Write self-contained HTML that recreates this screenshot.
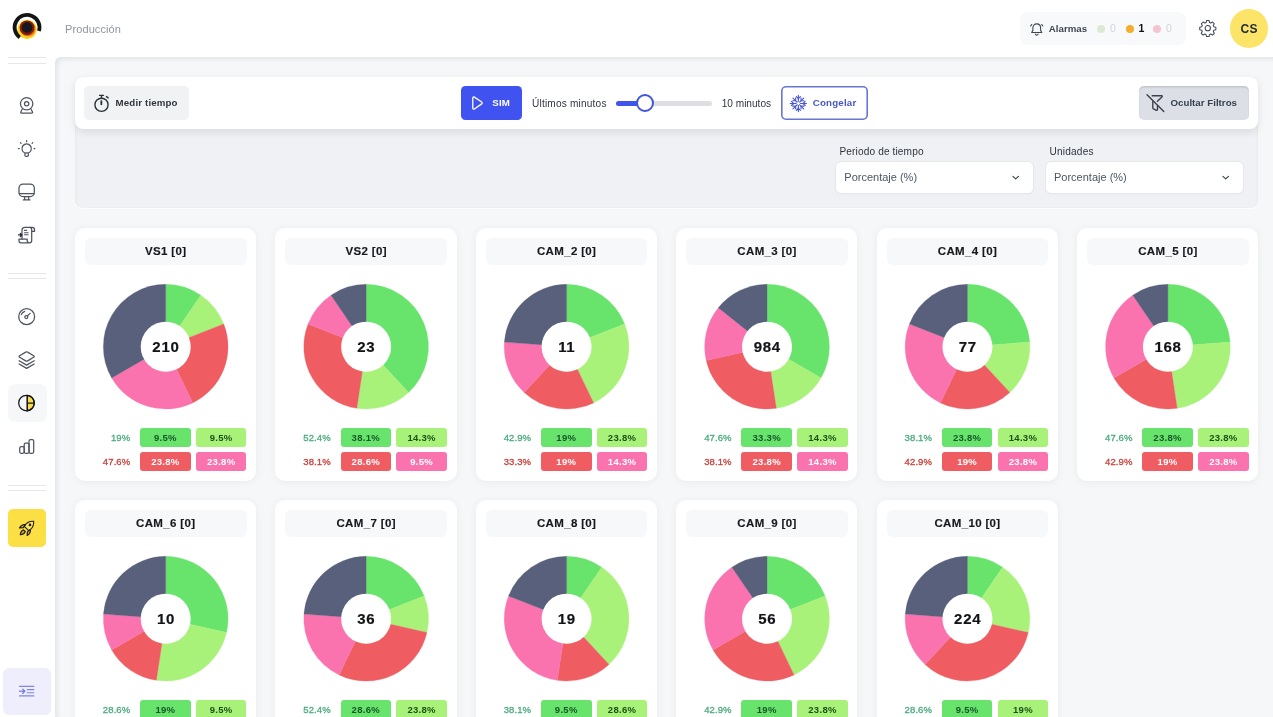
<!DOCTYPE html>
<html lang="es">
<head>
<meta charset="utf-8">
<title>Producción</title>
<style>
*{box-sizing:border-box;margin:0;padding:0}
html,body{width:1273px;height:717px;overflow:hidden;background:#fff}
body{font-family:"Liberation Sans",sans-serif;color:#374151;position:relative;font-size:10.5px}
.abs{position:absolute}
svg{display:block;overflow:visible}
.ico{position:absolute;fill:none;stroke:#4b5563;stroke-width:1.5;stroke-linecap:round;stroke-linejoin:round}
/* sidebar */
.divider{position:absolute;left:8px;width:37.5px;height:1px;background:#e5e7eb}
.navact{position:absolute;left:8px;top:384.400px;width:38.600px;height:37.600px;border-radius:7px;background:#f6f7f8}
.rocket{position:absolute;left:7.7px;top:509px;width:38.3px;height:38px;border-radius:5px;background:#fbdf45}
.collapse{position:absolute;left:3px;top:667.5px;width:48px;height:47.5px;border-radius:6px;background:#eeeefd}
/* header */
.crumb{position:absolute;left:65px;top:21.500px;font-size:11px;color:#90959e;letter-spacing:.1px;line-height:14px}
.alarm{position:absolute;left:1019.5px;top:12px;width:166.5px;height:33px;border-radius:8px;background:#f8f9fa}
.alarm .t{position:absolute;top:0;line-height:33px;font-size:10px;white-space:nowrap}
.dot{position:absolute;width:8px;height:8px;border-radius:50%;top:24.5px}
.avatar{position:absolute;left:1230px;top:9.3px;width:38.3px;height:38.3px;border-radius:50%;background:#fbe467;color:#1f2937;font-weight:700;font-size:12px;text-align:center;line-height:40px;letter-spacing:.3px}
/* main */
.main{position:absolute;left:55px;top:57px;right:0;bottom:0;background:#f6f7f9;border-top-left-radius:6px;box-shadow:inset 3px 3px 5px -1px rgba(17,24,39,.09)}
.filters{position:absolute;left:75px;top:77px;width:1183px;height:130.8px;border-radius:8px;background:#eff1f4;box-shadow:inset 1px 1px 3px rgba(17,24,39,.045),inset -1px 0 2px rgba(17,24,39,.03),0 1px 0 rgba(255,255,255,.75)}
.toolbar{position:absolute;left:75px;top:77px;width:1183px;height:52px;border-radius:8px;background:#fff;box-shadow:0 3px 8px rgba(17,24,39,.1)}
.btn{position:absolute;top:86px;height:34px;border-radius:5px;white-space:nowrap;font-weight:700;font-size:9.7px;line-height:34.4px}
.lbl{position:absolute;white-space:nowrap;font-size:10.1px;line-height:14px;color:#2f3540}
.sel{position:absolute;top:161px;width:199px;height:33px;border-radius:6px;background:#fff;border:1px solid #e5e7eb;box-shadow:0 1px 1px rgba(0,0,0,.02)}
.sel span{position:absolute;left:8.300px;top:0;line-height:31.600px;font-size:11px;color:#4b5563;letter-spacing:0;white-space:nowrap}
/* cards */
.card{position:absolute;width:181.17px;height:253px;border-radius:10px;background:#fff;box-shadow:0 1px 8px rgba(17,24,39,.055)}
.ctitle{position:absolute;left:9.900px;right:9.600px;top:10px;height:26.5px;border-radius:6px;background:#f7f8f9;text-align:center;font-weight:700;font-size:11.5px;line-height:26.5px;color:#17191d;letter-spacing:.35px;-webkit-text-stroke:.15px currentColor}
.pie{position:absolute;left:25.400px;top:54px}
.num{z-index:2;position:absolute;left:0;right:0;top:109.300px;text-align:center;font-weight:700;font-size:15px;line-height:20px;color:#121417;letter-spacing:.7px;text-indent:.7px;-webkit-text-stroke:.2px currentColor}
.lt{position:absolute;left:0;width:55.3px;text-align:right;height:18.8px;line-height:19.600px;font-size:9.5px;letter-spacing:.1px;white-space:nowrap;-webkit-text-stroke:.3px currentColor}
.lt.g{color:#4cab7f}
.lt.r{color:#c8423b}
.bx{position:absolute;width:50.6px;height:18.8px;border-radius:3px;text-align:center;line-height:19.600px;font-weight:700;font-size:9.5px;letter-spacing:.3px}
.bg{background:#68e36c;color:#17572a}
.blg{background:#a8f279;color:#1d4f1a}
.br{background:#ef5d63;color:#fff}
.bp{background:#fa73ae;color:#fff}
</style>
</head>
<body>
<!-- header -->
<svg class="abs" style="left:0;top:0" width="54" height="54" viewBox="0 0 54 54">
<circle cx="27.1" cy="29.5" r="9.7" fill="#fcd61c"/>
<circle cx="27.9" cy="28.9" r="7.7" fill="#ee7b1a"/>
<circle cx="27" cy="27.800" r="7.400" fill="#8a1a0c"/>
<circle cx="27.1" cy="27.4" r="5.3" fill="#17171f"/>
<path d="M19.73 37.42A12.45 12.45 0 1 1 38.96 30.99" fill="none" stroke="#121512" stroke-width="3.8"/>
</svg>
<div class="crumb">Producción</div>

<div class="alarm">
<svg class="ico" style="left:9.3px;top:8.7px;stroke:#3f4652;stroke-width:1.7" width="15.5" height="15.5" viewBox="0 0 24 24"><path d="M12 4.500c-3.600 0-6 2.700-6 6.300v3.700l-1.800 3.200h15.600L18 14.500v-3.700c0-3.600-2.400-6.300-6-6.300z"/><path d="M9.800 20.300a2.300 2.300 0 0 0 4.400 0"/><path d="M4.200 5.500L2.500 7.800M19.800 5.500l1.700 2.300"/></svg>
<div class="t" style="left:29.3px;font-weight:700;color:#3f4652;font-size:9.7px;letter-spacing:.02px;top:.3px">Alarmas</div>
<div class="dot" style="left:77.5px;top:12.500px;background:#dbead3"></div>
<div class="t" style="left:90.5px;color:#d1d5db;font-size:10.500px">0</div>
<div class="dot" style="left:106.500px;top:12.500px;background:#f3ae2e"></div>
<div class="t" style="left:119px;color:#111;font-weight:700;font-size:10.500px">1</div>
<div class="dot" style="left:133.500px;top:12.500px;background:#f6c3d0"></div>
<div class="t" style="left:146.500px;color:#d1d5db;font-size:10.500px">0</div>
</div>
<svg class="ico" style="left:1199.4px;top:19.3px;stroke:#3f4652;stroke-width:1.4" width="17.6" height="17.6" viewBox="0 0 24 24"><path d="M10.300 2.500h3.400l.6 2.700 1.700.8 2.500-1.400 2.400 2.400-1.400 2.500.8 1.700 2.700.6v3.400l-2.700.6-.8 1.700 1.400 2.500-2.400 2.400-2.500-1.400-1.700.8-.6 2.700h-3.400l-.6-2.700-1.700-.8-2.500 1.400-2.400-2.400 1.400-2.500-.8-1.700-2.700-.6v-3.400l2.700-.6.800-1.700-1.400-2.500 2.400-2.400 2.500 1.400 1.700-.8z" transform="translate(0 -.500)"/><circle cx="12" cy="12.500" r="3.600"/></svg>
<div class="avatar">CS</div>

<!-- sidebar -->
<div class="divider" style="top:57px"></div>
<div class="divider" style="top:63px"></div>
<div class="divider" style="top:273px"></div>
<div class="divider" style="top:278px"></div>
<div class="divider" style="top:484.500px"></div>
<div class="divider" style="top:489.500px"></div>
<div class="navact"></div>
<div class="rocket"></div>
<div class="collapse"></div>
<svg class="abs" style="left:0;top:0" width="56" height="717" viewBox="0 0 56 717" fill="none" stroke="#4d5460" stroke-width="1.25" stroke-linecap="round" stroke-linejoin="round">
<!-- webcam -->
<circle cx="26.65" cy="103.75" r="6.2"/><circle cx="26.65" cy="103.75" r="2.15"/>
<path d="M22.2 109.3l-1.400 2.700c-.3.600 0 1 .600 1h10.500c.600 0 .900-.400.600-1l-1.400-2.700"/>
<!-- bulb -->
<path d="M24.900 152.960a4.700 4.700 0 1 1 3.500 0"/><rect x="24.900" y="152.960" width="3.500" height="3.400" rx="1.200"/>
<path d="M26.600 140.700v1M20.500 142.600l.600.700M32.700 142.600l-.600.700M18.400 148.500h.9M34 148.500h.9"/>
<!-- monitor -->
<rect x="19" y="184" width="15.300" height="12.500" rx="4"/><path d="M19.200 193.500h14.900"/><path d="M24.700 196.800v2.900M28.600 196.800v2.900M23.300 199.900h6.700"/>
<!-- scroll -->
<path d="M22 239v-8.800c0-1.800 1-2.900 2.800-2.900h7.500c1.500 0 2.200.9 2.200 2.200v1.900h-2.800"/>
<path d="M29.500 227.300c1.500 0 2.200 1 2.200 2.200v11c0 1.500-.9 2.300-2.200 2.300h-8.500c-1.300 0-2-.8-2-2v-1.800h8.200v1.800c0 1.200.8 2 2.200 2"/>
<path d="M24.500 230.400h2M24.500 232.800h3.600M24.500 234.800h3.600" stroke-width="1.100"/>
<path d="M18.500 234.900h3M20.400 233.400l1.500 1.500-1.500 1.500" stroke="#2b313a" stroke-width="1.400"/>
<!-- gauge -->
<circle cx="26.660" cy="316.660" r="7.950"/><circle cx="26.300" cy="317" r="1.500"/><path d="M27.400 315.900l2.700-2.500"/><path d="M21.300 314.600a5.700 5.700 0 0 1 3.300-3.300"/>
<!-- layers -->
<path d="M25.650 352.100c.6-.4 1.400-.4 2 0l6 3.600c.8.500.8 1.100 0 1.600l-6 3.600c-.6.400-1.400.4-2 0l-6-3.600c-.8-.5-.8-1.100 0-1.600z"/>
<path d="M19.100 360.700l7.550 4.400 7.550-4.400M19.100 364l7.550 4.400 7.550-4.400"/>
<!-- active pie -->
<g stroke="#16181d" stroke-width="1.250"><path d="M27.300 395.300a7.800 7.800 0 0 1 0 15.500z" fill="#f9de4a"/><circle cx="26.500" cy="403.050" r="7.800"/><path d="M27.300 395.300v15.500M27.300 403.100h7"/></g>
<!-- bars -->
<rect x="19.700" y="446.700" width="4.500" height="6.600" rx="1.500"/><rect x="24.200" y="443.100" width="4.800" height="10.200" rx="1.500"/><rect x="29" y="439.500" width="4.700" height="13.800" rx="1.500"/>
<!-- rocket -->
<g stroke="#221c06" stroke-width="1.100" fill="rgba(130,85,45,.38)">
<path d="M33.700 521.300c-4.200-.3-7.600 1.700-9.400 5l4.400 4.400c3.300-1.800 5.300-5.200 5-9.400z" fill="rgba(255,240,140,.35)"/>
<path d="M25.300 524.600c-2.300-.3-4.400.9-5.800 3.300l3.900-.3z"/>
<path d="M30.400 529.700c.3 2.300-.9 4.400-3.300 5.800l.3-3.900z"/>
<path d="M23.600 529.900c-1.900.5-3 2.300-3.300 4.900 2.600-.3 4.400-1.400 4.900-3.300z"/>
<circle cx="30" cy="524.900" r=".8" fill="#221c06"/>
</g>
<!-- collapse -->
<g stroke="#8385e4" stroke-width="1.150"><path d="M19.500 686.400h14.300M27.200 689.600h6.600M27.200 692.700h6.600M19.500 695.900h14.300"/><path d="M19.500 691.150h5M22.800 689.100l2.100 2.050-2.100 2.050" stroke-width="1.300" stroke="#7577dc"/></g>
</svg>

<!-- main -->
<div class="main"></div>
<div class="filters"></div>
<div class="toolbar"></div>
<!-- Medir tiempo -->
<div class="btn" style="left:84.300px;width:105.200px;background:#f1f2f4;color:#2f3640"><svg class="ico" style="left:8.4px;top:7.6px;stroke:#2b313a;stroke-width:2" width="17" height="17.7" viewBox="0 0 24 25"><circle cx="12" cy="15.2" r="9.3"/><path d="M11.8 10v4.6" stroke-width="2.6"/><path d="M9.200 1.900h5.600M12 2.200v3.500"/><path d="M19 3.500l2.300 2"/></svg><span style="position:absolute;left:31.300px;letter-spacing:.15px">Medir tiempo</span></div>
<!-- SIM -->
<div class="btn" style="left:460.800px;width:61.200px;background:#4053f0;color:#fff;border-radius:4.500px"><svg class="ico" style="left:11.200px;top:9.700px;stroke:#fff;stroke-width:1.400" width="11.300" height="14.100" viewBox="0 0 12 15"><path d="M.8 2.200c0-1 .9-1.500 1.700-1l7.800 5.200c.8.500.8 1.500 0 2L2.500 13.800c-.8.500-1.700 0-1.700-1z"/></svg><span style="position:absolute;left:31.400px;letter-spacing:.25px">SIM</span></div>
<div class="lbl" style="left:532px;top:96.700px;letter-spacing:.19px">Últimos minutos</div>
<!-- slider -->
<div class="abs" style="left:615.500px;top:100.500px;width:96.300px;height:5.200px;border-radius:3px;background:#dedfe3"></div>
<div class="abs" style="left:615.500px;top:100.500px;width:30px;height:5.200px;border-radius:3px;background:#4053ea"></div>
<div class="abs" style="left:635.600px;top:93.900px;width:18.600px;height:18.600px;border-radius:50%;background:#fff;border:2.300px solid #4255de"></div>
<div class="lbl" style="left:721.700px;top:96.700px;letter-spacing:0">10 minutos</div>
<!-- Congelar -->
<div class="btn" style="left:781.400px;width:86.700px;background:#fff;box-shadow:inset 0 0 0 1.600px #6776d0;color:#4656c4;line-height:33.700px;border-radius:5px"><svg class="ico" style="left:7.600px;top:8.600px;stroke:#4759d0;stroke-width:1.600" width="17.400" height="17.400" viewBox="0 0 24 24"><g transform="translate(.9 -.3)"><path d="M12 .8v22.400M.8 12h22.400M4.600 4.600l14.800 14.800M19.400 4.600L4.600 19.400"/><path d="M9.200 2.600L12 5.400l2.800-2.800M9.200 21.400l2.800-2.800 2.800 2.800M2.600 9.200L5.400 12l-2.800 2.800M21.400 9.200L18.600 12l2.800 2.800"/><path d="M4.300 8.300h4v-4M19.700 8.300h-4v-4M4.300 15.700h4v4M19.700 15.700h-4v4" stroke-width="1.500"/><path d="M12 9.400l2.600 2.600-2.600 2.600L9.400 12z" fill="#fff" stroke="none"/></g></svg><span style="position:absolute;left:31.400px;letter-spacing:.2px">Congelar</span></div>
<!-- Ocultar filtros -->
<div class="btn" style="left:1138.900px;width:110px;height:33.500px;background:#dcdfe5;color:#374151;box-shadow:inset 0 1.500px 1.500px rgba(17,24,39,.13)"><svg class="ico" style="left:7.100px;top:7px;stroke:#3a414d;stroke-width:1.400" width="19" height="20" viewBox="0 0 19 20"><path d="M6.200 2.700h9.300c.8 0 1 .6.500 1.200L11.400 8.200"/><path d="M6.800 8.500v6.300c0 .5.200.8.600 1l2.600 1.300c.8.400 1.500 0 1.500-.9V13"/><path d="M1 1.800l16.800 16.800"/></svg><span style="position:absolute;left:31.600px;letter-spacing:.02px">Ocultar Filtros</span></div>

<div class="lbl" style="left:839.500px;top:144.600px;letter-spacing:.13px">Periodo de tiempo</div>
<div class="lbl" style="left:1049.500px;top:144.600px;letter-spacing:.19px">Unidades</div>
<div class="sel" style="left:835px"><span>Porcentaje (%)</span><svg class="ico" style="left:176px;top:13.400px;stroke:#374151;stroke-width:1.250" width="7.400" height="5.500" viewBox="0 0 8 6"><path d="M1 1.500l3 2.800 3-2.800"/></svg></div>
<div class="sel" style="left:1044.700px"><span>Porcentaje (%)</span><svg class="ico" style="left:176px;top:13.400px;stroke:#374151;stroke-width:1.250" width="7.400" height="5.500" viewBox="0 0 8 6"><path d="M1 1.500l3 2.800 3-2.800"/></svg></div>

<div class="card" style="left:75.00px;top:228.00px">
<div class="ctitle">VS1 [0]</div>
<div class="num">210</div>
<div class="lt g" style="top:200px">19%</div><div class="bx bg" style="top:200px;left:65.1px">9.5%</div><div class="bx blg" style="top:200px;left:120.9px">9.5%</div>
<div class="lt r" style="top:224px">47.6%</div><div class="bx br" style="top:224px;left:65.1px">23.8%</div><div class="bx bp" style="top:224px;left:120.9px">23.8%</div>
</div>
<div class="card" style="left:275.44px;top:228.00px">
<div class="ctitle">VS2 [0]</div>
<div class="num">23</div>
<div class="lt g" style="top:200px">52.4%</div><div class="bx bg" style="top:200px;left:65.1px">38.1%</div><div class="bx blg" style="top:200px;left:120.9px">14.3%</div>
<div class="lt r" style="top:224px">38.1%</div><div class="bx br" style="top:224px;left:65.1px">28.6%</div><div class="bx bp" style="top:224px;left:120.9px">9.5%</div>
</div>
<div class="card" style="left:475.88px;top:228.00px">
<div class="ctitle">CAM_2 [0]</div>
<div class="num">11</div>
<div class="lt g" style="top:200px">42.9%</div><div class="bx bg" style="top:200px;left:65.1px">19%</div><div class="bx blg" style="top:200px;left:120.9px">23.8%</div>
<div class="lt r" style="top:224px">33.3%</div><div class="bx br" style="top:224px;left:65.1px">19%</div><div class="bx bp" style="top:224px;left:120.9px">14.3%</div>
</div>
<div class="card" style="left:676.32px;top:228.00px">
<div class="ctitle">CAM_3 [0]</div>
<div class="num">984</div>
<div class="lt g" style="top:200px">47.6%</div><div class="bx bg" style="top:200px;left:65.1px">33.3%</div><div class="bx blg" style="top:200px;left:120.9px">14.3%</div>
<div class="lt r" style="top:224px">38.1%</div><div class="bx br" style="top:224px;left:65.1px">23.8%</div><div class="bx bp" style="top:224px;left:120.9px">14.3%</div>
</div>
<div class="card" style="left:876.76px;top:228.00px">
<div class="ctitle">CAM_4 [0]</div>
<div class="num">77</div>
<div class="lt g" style="top:200px">38.1%</div><div class="bx bg" style="top:200px;left:65.1px">23.8%</div><div class="bx blg" style="top:200px;left:120.9px">14.3%</div>
<div class="lt r" style="top:224px">42.9%</div><div class="bx br" style="top:224px;left:65.1px">19%</div><div class="bx bp" style="top:224px;left:120.9px">23.8%</div>
</div>
<div class="card" style="left:1077.20px;top:228.00px">
<div class="ctitle">CAM_5 [0]</div>
<div class="num">168</div>
<div class="lt g" style="top:200px">47.6%</div><div class="bx bg" style="top:200px;left:65.1px">23.8%</div><div class="bx blg" style="top:200px;left:120.9px">23.8%</div>
<div class="lt r" style="top:224px">42.9%</div><div class="bx br" style="top:224px;left:65.1px">19%</div><div class="bx bp" style="top:224px;left:120.9px">23.8%</div>
</div>
<div class="card" style="left:75.00px;top:500.00px">
<div class="ctitle">CAM_6 [0]</div>
<div class="num">10</div>
<div class="lt g" style="top:200px">28.6%</div><div class="bx bg" style="top:200px;left:65.1px">19%</div><div class="bx blg" style="top:200px;left:120.9px">9.5%</div>
<div class="lt r" style="top:224px">23.8%</div><div class="bx br" style="top:224px;left:65.1px">14.3%</div><div class="bx bp" style="top:224px;left:120.9px">9.5%</div>
</div>
<div class="card" style="left:275.44px;top:500.00px">
<div class="ctitle">CAM_7 [0]</div>
<div class="num">36</div>
<div class="lt g" style="top:200px">52.4%</div><div class="bx bg" style="top:200px;left:65.1px">28.6%</div><div class="bx blg" style="top:200px;left:120.9px">23.8%</div>
<div class="lt r" style="top:224px">47.6%</div><div class="bx br" style="top:224px;left:65.1px">28.6%</div><div class="bx bp" style="top:224px;left:120.9px">19%</div>
</div>
<div class="card" style="left:475.88px;top:500.00px">
<div class="ctitle">CAM_8 [0]</div>
<div class="num">19</div>
<div class="lt g" style="top:200px">38.1%</div><div class="bx bg" style="top:200px;left:65.1px">9.5%</div><div class="bx blg" style="top:200px;left:120.9px">28.6%</div>
<div class="lt r" style="top:224px">42.9%</div><div class="bx br" style="top:224px;left:65.1px">14.3%</div><div class="bx bp" style="top:224px;left:120.9px">28.6%</div>
</div>
<div class="card" style="left:676.32px;top:500.00px">
<div class="ctitle">CAM_9 [0]</div>
<div class="num">56</div>
<div class="lt g" style="top:200px">42.9%</div><div class="bx bg" style="top:200px;left:65.1px">19%</div><div class="bx blg" style="top:200px;left:120.9px">23.8%</div>
<div class="lt r" style="top:224px">47.6%</div><div class="bx br" style="top:224px;left:65.1px">23.8%</div><div class="bx bp" style="top:224px;left:120.9px">23.8%</div>
</div>
<div class="card" style="left:876.76px;top:500.00px">
<div class="ctitle">CAM_10 [0]</div>
<div class="num">224</div>
<div class="lt g" style="top:200px">28.6%</div><div class="bx bg" style="top:200px;left:65.1px">9.5%</div><div class="bx blg" style="top:200px;left:120.9px">19%</div>
<div class="lt r" style="top:224px">47.6%</div><div class="bx br" style="top:224px;left:65.1px">33.3%</div><div class="bx bp" style="top:224px;left:120.9px">14.3%</div>
</div>
<svg class="abs" style="left:0;top:0;pointer-events:none" width="1273" height="717" viewBox="0 0 1273 717"><path d="M165.70 346.70L165.70 284.35A62.35 62.35 0 0 1 200.82 295.18Z" fill="#68e36c" stroke="#68e36c" stroke-width="0.3"/><path d="M165.70 346.70L200.82 295.18A62.35 62.35 0 0 1 223.74 323.92Z" fill="#a8f279" stroke="#a8f279" stroke-width="0.3"/><path d="M165.70 346.70L223.74 323.92A62.35 62.35 0 0 1 192.75 402.88Z" fill="#ef5d63" stroke="#ef5d63" stroke-width="0.3"/><path d="M165.70 346.70L192.75 402.88A62.35 62.35 0 0 1 111.70 377.88Z" fill="#fa73ae" stroke="#fa73ae" stroke-width="0.3"/><path d="M165.70 346.70L111.70 377.88A62.35 62.35 0 0 1 165.70 284.35Z" fill="#58607c" stroke="#58607c" stroke-width="0.3"/><circle cx="165.70" cy="346.70" r="25.0" fill="#fff"/>
<path d="M366.14 346.70L366.14 284.35A62.35 62.35 0 0 1 408.55 392.41Z" fill="#68e36c" stroke="#68e36c" stroke-width="0.3"/><path d="M366.14 346.70L408.55 392.41A62.35 62.35 0 0 1 356.85 408.35Z" fill="#a8f279" stroke="#a8f279" stroke-width="0.3"/><path d="M366.14 346.70L356.85 408.35A62.35 62.35 0 0 1 308.10 323.92Z" fill="#ef5d63" stroke="#ef5d63" stroke-width="0.3"/><path d="M366.14 346.70L308.10 323.92A62.35 62.35 0 0 1 331.02 295.18Z" fill="#fa73ae" stroke="#fa73ae" stroke-width="0.3"/><path d="M366.14 346.70L331.02 295.18A62.35 62.35 0 0 1 366.14 284.35Z" fill="#58607c" stroke="#58607c" stroke-width="0.3"/><circle cx="366.14" cy="346.70" r="25.0" fill="#fff"/>
<path d="M566.58 346.70L566.58 284.35A62.35 62.35 0 0 1 624.62 323.92Z" fill="#68e36c" stroke="#68e36c" stroke-width="0.3"/><path d="M566.58 346.70L624.62 323.92A62.35 62.35 0 0 1 593.63 402.88Z" fill="#a8f279" stroke="#a8f279" stroke-width="0.3"/><path d="M566.58 346.70L593.63 402.88A62.35 62.35 0 0 1 524.17 392.41Z" fill="#ef5d63" stroke="#ef5d63" stroke-width="0.3"/><path d="M566.58 346.70L524.17 392.41A62.35 62.35 0 0 1 504.40 342.04Z" fill="#fa73ae" stroke="#fa73ae" stroke-width="0.3"/><path d="M566.58 346.70L504.40 342.04A62.35 62.35 0 0 1 566.58 284.35Z" fill="#58607c" stroke="#58607c" stroke-width="0.3"/><circle cx="566.58" cy="346.70" r="25.0" fill="#fff"/>
<path d="M767.02 346.70L767.02 284.35A62.35 62.35 0 0 1 821.02 377.88Z" fill="#68e36c" stroke="#68e36c" stroke-width="0.3"/><path d="M767.02 346.70L821.02 377.88A62.35 62.35 0 0 1 776.31 408.35Z" fill="#a8f279" stroke="#a8f279" stroke-width="0.3"/><path d="M767.02 346.70L776.31 408.35A62.35 62.35 0 0 1 706.23 360.57Z" fill="#ef5d63" stroke="#ef5d63" stroke-width="0.3"/><path d="M767.02 346.70L706.23 360.57A62.35 62.35 0 0 1 718.27 307.83Z" fill="#fa73ae" stroke="#fa73ae" stroke-width="0.3"/><path d="M767.02 346.70L718.27 307.83A62.35 62.35 0 0 1 767.02 284.35Z" fill="#58607c" stroke="#58607c" stroke-width="0.3"/><circle cx="767.02" cy="346.70" r="25.0" fill="#fff"/>
<path d="M967.46 346.70L967.46 284.35A62.35 62.35 0 0 1 1029.64 342.04Z" fill="#68e36c" stroke="#68e36c" stroke-width="0.3"/><path d="M967.46 346.70L1029.64 342.04A62.35 62.35 0 0 1 1009.87 392.41Z" fill="#a8f279" stroke="#a8f279" stroke-width="0.3"/><path d="M967.46 346.70L1009.87 392.41A62.35 62.35 0 0 1 940.41 402.88Z" fill="#ef5d63" stroke="#ef5d63" stroke-width="0.3"/><path d="M967.46 346.70L940.41 402.88A62.35 62.35 0 0 1 909.42 323.92Z" fill="#fa73ae" stroke="#fa73ae" stroke-width="0.3"/><path d="M967.46 346.70L909.42 323.92A62.35 62.35 0 0 1 967.46 284.35Z" fill="#58607c" stroke="#58607c" stroke-width="0.3"/><circle cx="967.46" cy="346.70" r="25.0" fill="#fff"/>
<path d="M1167.90 346.70L1167.90 284.35A62.35 62.35 0 0 1 1230.08 342.04Z" fill="#68e36c" stroke="#68e36c" stroke-width="0.3"/><path d="M1167.90 346.70L1230.08 342.04A62.35 62.35 0 0 1 1177.19 408.35Z" fill="#a8f279" stroke="#a8f279" stroke-width="0.3"/><path d="M1167.90 346.70L1177.19 408.35A62.35 62.35 0 0 1 1113.90 377.88Z" fill="#ef5d63" stroke="#ef5d63" stroke-width="0.3"/><path d="M1167.90 346.70L1113.90 377.88A62.35 62.35 0 0 1 1132.78 295.18Z" fill="#fa73ae" stroke="#fa73ae" stroke-width="0.3"/><path d="M1167.90 346.70L1132.78 295.18A62.35 62.35 0 0 1 1167.90 284.35Z" fill="#58607c" stroke="#58607c" stroke-width="0.3"/><circle cx="1167.90" cy="346.70" r="25.0" fill="#fff"/>
<path d="M165.70 618.70L165.70 556.35A62.35 62.35 0 0 1 226.49 632.57Z" fill="#68e36c" stroke="#68e36c" stroke-width="0.3"/><path d="M165.70 618.70L226.49 632.57A62.35 62.35 0 0 1 156.41 680.35Z" fill="#a8f279" stroke="#a8f279" stroke-width="0.3"/><path d="M165.70 618.70L156.41 680.35A62.35 62.35 0 0 1 111.70 649.88Z" fill="#ef5d63" stroke="#ef5d63" stroke-width="0.3"/><path d="M165.70 618.70L111.70 649.88A62.35 62.35 0 0 1 103.52 614.04Z" fill="#fa73ae" stroke="#fa73ae" stroke-width="0.3"/><path d="M165.70 618.70L103.52 614.04A62.35 62.35 0 0 1 165.70 556.35Z" fill="#58607c" stroke="#58607c" stroke-width="0.3"/><circle cx="165.70" cy="618.70" r="25.0" fill="#fff"/>
<path d="M366.14 618.70L366.14 556.35A62.35 62.35 0 0 1 424.18 595.92Z" fill="#68e36c" stroke="#68e36c" stroke-width="0.3"/><path d="M366.14 618.70L424.18 595.92A62.35 62.35 0 0 1 426.93 632.57Z" fill="#a8f279" stroke="#a8f279" stroke-width="0.3"/><path d="M366.14 618.70L426.93 632.57A62.35 62.35 0 0 1 339.09 674.88Z" fill="#ef5d63" stroke="#ef5d63" stroke-width="0.3"/><path d="M366.14 618.70L339.09 674.88A62.35 62.35 0 0 1 303.96 614.04Z" fill="#fa73ae" stroke="#fa73ae" stroke-width="0.3"/><path d="M366.14 618.70L303.96 614.04A62.35 62.35 0 0 1 366.14 556.35Z" fill="#58607c" stroke="#58607c" stroke-width="0.3"/><circle cx="366.14" cy="618.70" r="25.0" fill="#fff"/>
<path d="M566.58 618.70L566.58 556.35A62.35 62.35 0 0 1 601.70 567.18Z" fill="#68e36c" stroke="#68e36c" stroke-width="0.3"/><path d="M566.58 618.70L601.70 567.18A62.35 62.35 0 0 1 608.99 664.41Z" fill="#a8f279" stroke="#a8f279" stroke-width="0.3"/><path d="M566.58 618.70L608.99 664.41A62.35 62.35 0 0 1 557.29 680.35Z" fill="#ef5d63" stroke="#ef5d63" stroke-width="0.3"/><path d="M566.58 618.70L557.29 680.35A62.35 62.35 0 0 1 508.54 595.92Z" fill="#fa73ae" stroke="#fa73ae" stroke-width="0.3"/><path d="M566.58 618.70L508.54 595.92A62.35 62.35 0 0 1 566.58 556.35Z" fill="#58607c" stroke="#58607c" stroke-width="0.3"/><circle cx="566.58" cy="618.70" r="25.0" fill="#fff"/>
<path d="M767.02 618.70L767.02 556.35A62.35 62.35 0 0 1 825.06 595.92Z" fill="#68e36c" stroke="#68e36c" stroke-width="0.3"/><path d="M767.02 618.70L825.06 595.92A62.35 62.35 0 0 1 794.07 674.88Z" fill="#a8f279" stroke="#a8f279" stroke-width="0.3"/><path d="M767.02 618.70L794.07 674.88A62.35 62.35 0 0 1 713.02 649.88Z" fill="#ef5d63" stroke="#ef5d63" stroke-width="0.3"/><path d="M767.02 618.70L713.02 649.88A62.35 62.35 0 0 1 731.90 567.18Z" fill="#fa73ae" stroke="#fa73ae" stroke-width="0.3"/><path d="M767.02 618.70L731.90 567.18A62.35 62.35 0 0 1 767.02 556.35Z" fill="#58607c" stroke="#58607c" stroke-width="0.3"/><circle cx="767.02" cy="618.70" r="25.0" fill="#fff"/>
<path d="M967.46 618.70L967.46 556.35A62.35 62.35 0 0 1 1002.58 567.18Z" fill="#68e36c" stroke="#68e36c" stroke-width="0.3"/><path d="M967.46 618.70L1002.58 567.18A62.35 62.35 0 0 1 1028.25 632.57Z" fill="#a8f279" stroke="#a8f279" stroke-width="0.3"/><path d="M967.46 618.70L1028.25 632.57A62.35 62.35 0 0 1 925.05 664.41Z" fill="#ef5d63" stroke="#ef5d63" stroke-width="0.3"/><path d="M967.46 618.70L925.05 664.41A62.35 62.35 0 0 1 905.28 614.04Z" fill="#fa73ae" stroke="#fa73ae" stroke-width="0.3"/><path d="M967.46 618.70L905.28 614.04A62.35 62.35 0 0 1 967.46 556.35Z" fill="#58607c" stroke="#58607c" stroke-width="0.3"/><circle cx="967.46" cy="618.70" r="25.0" fill="#fff"/></svg>
</body>
</html>
